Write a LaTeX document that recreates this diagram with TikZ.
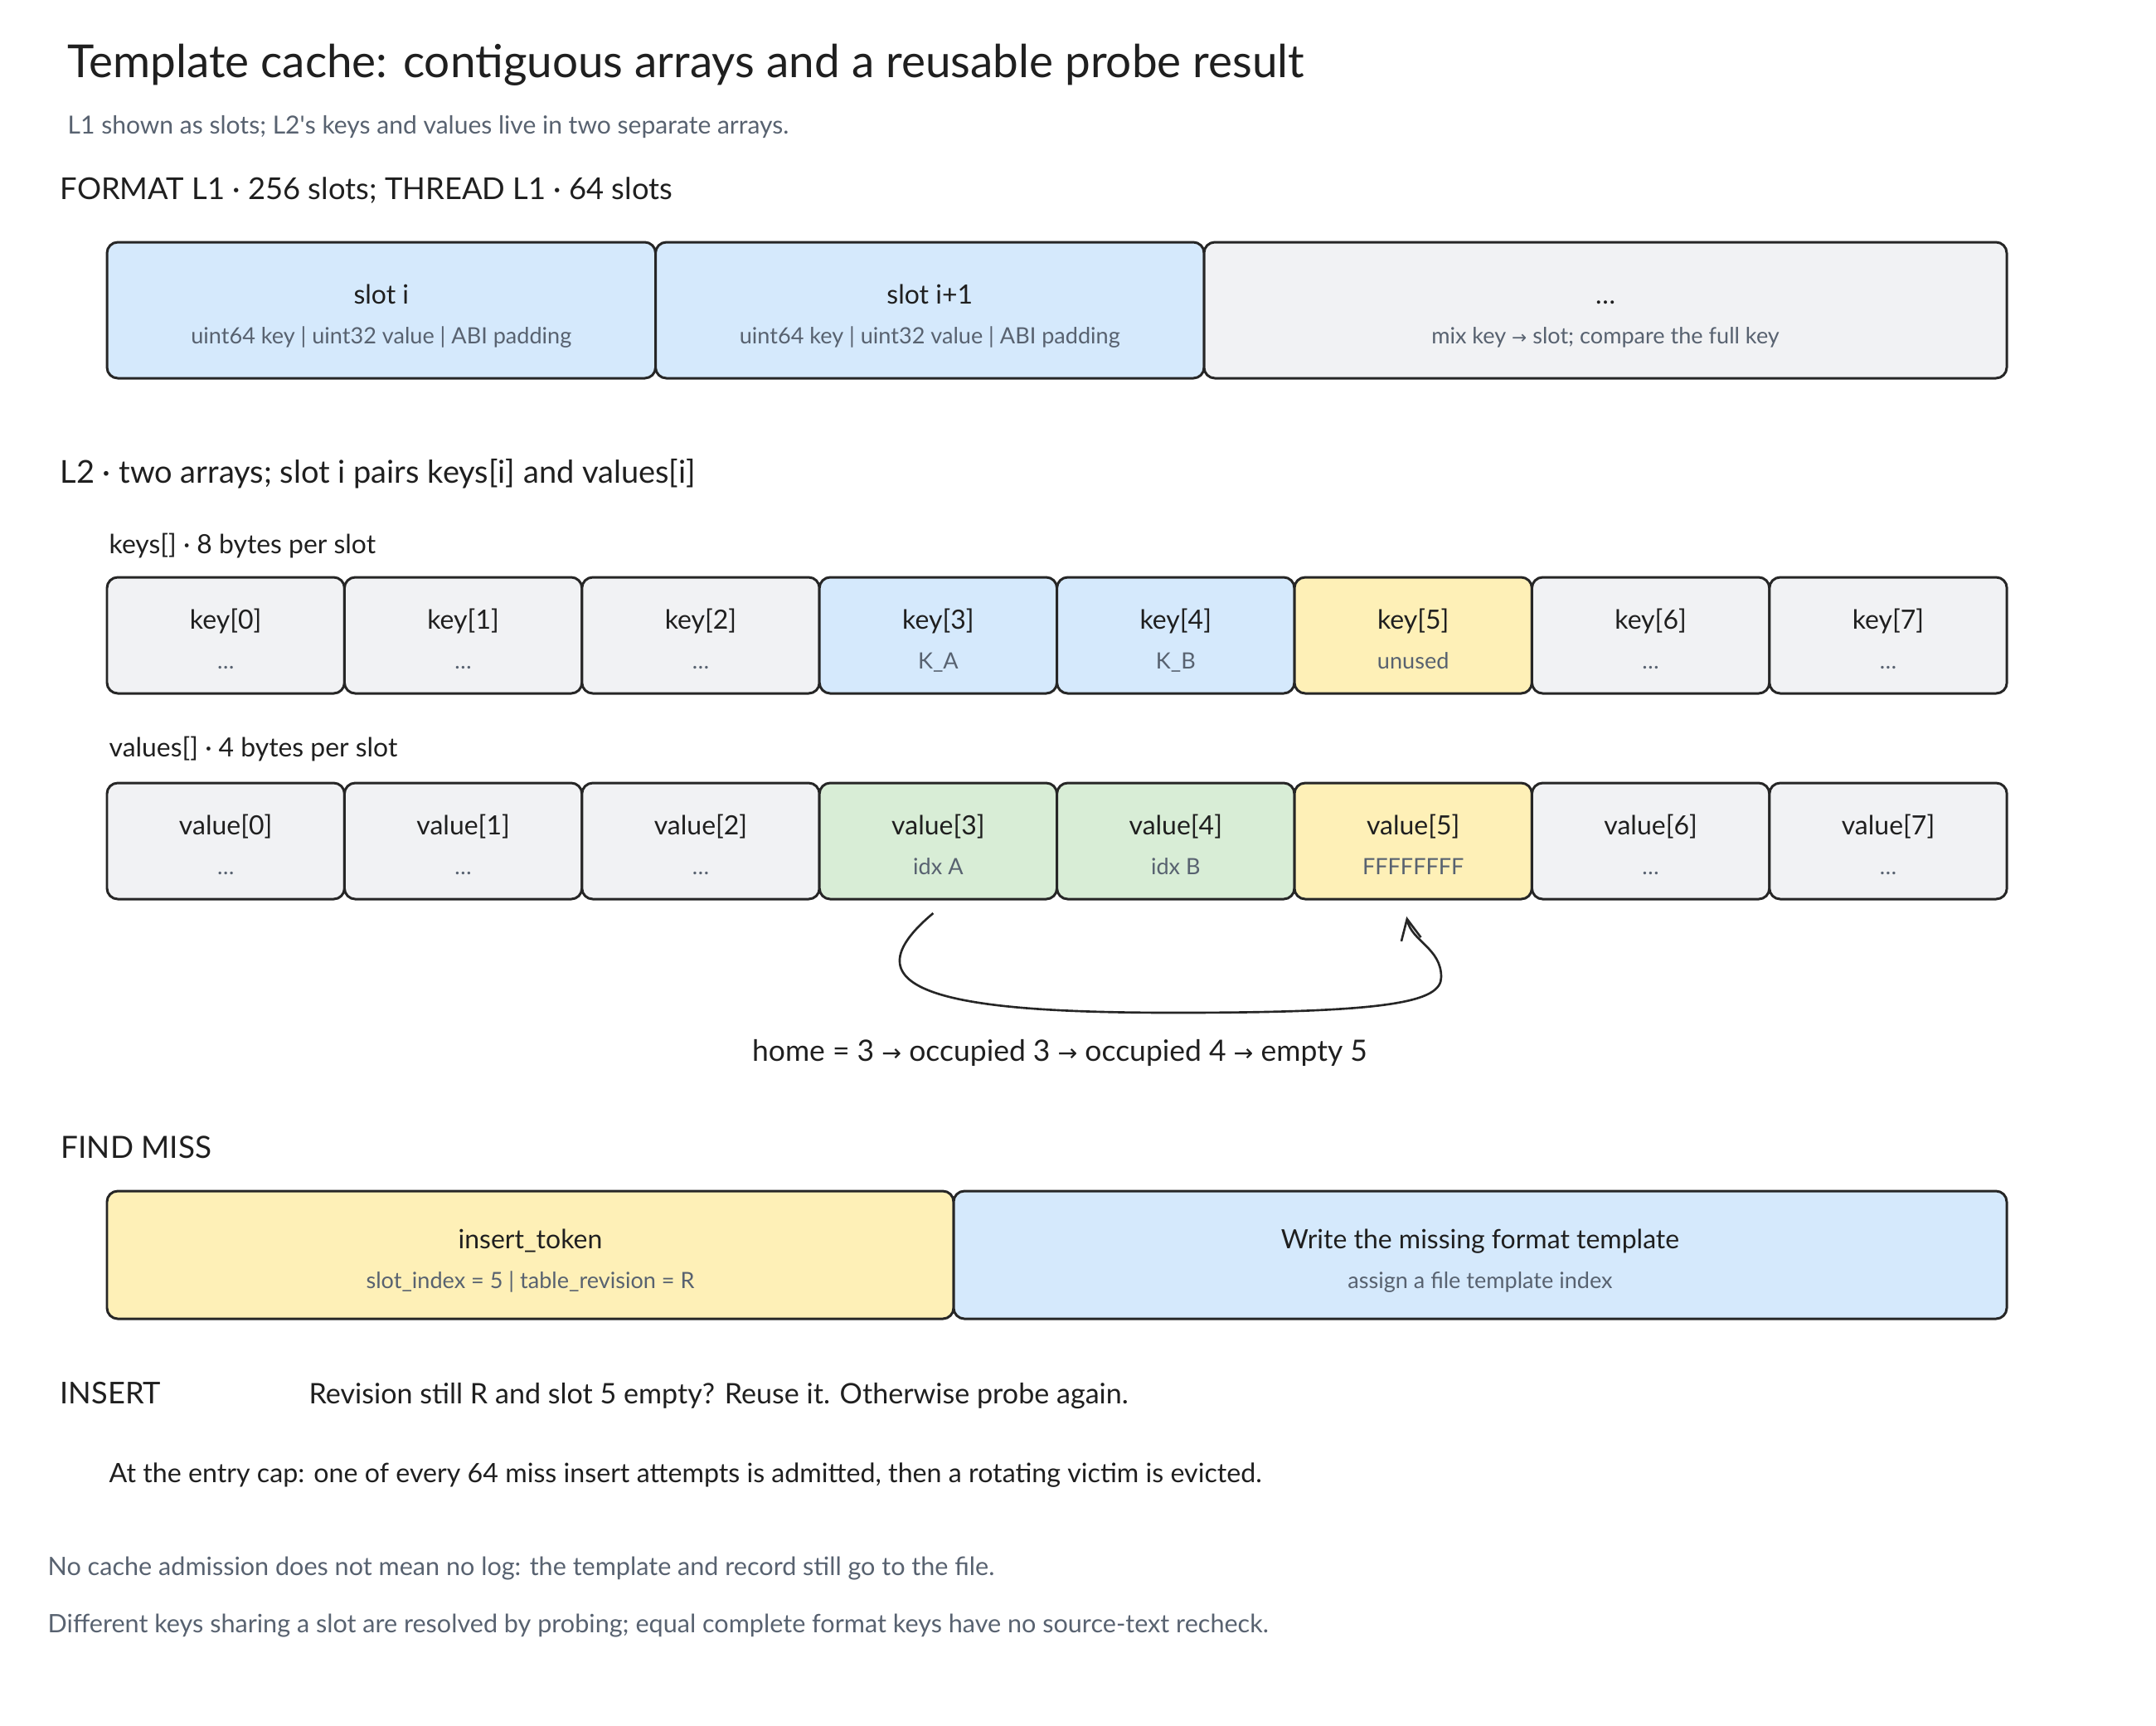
\documentclass[tikz,border=0pt]{standalone}
\usepackage{fontspec}
\setmainfont{Lato}
\newfontfamily\arrowfont{DejaVu Sans}[Scale=0.8]
\usetikzlibrary{arrows.meta}

\begin{document}
\begin{tikzpicture}[
  boxed/.style={rectangle, rounded corners=0.13cm, draw=edgecol, line width=0.85pt, inner sep=0pt, outer sep=0pt, text=inkcol, font=\fontsize{9.1}{11}\selectfont, text height=0.30cm, text depth=0.46cm},
  keybox/.style={boxed, minimum width=2.864cm, minimum height=1.40cm},
  subtxt/.style={anchor=base, inner sep=0pt, text=subcol, font=\fontsize{7.7}{9}\selectfont},
  heading/.style={anchor=base west, inner sep=0pt, text=inkcol, font=\fontsize{10.4}{13}\selectfont},
  arraylabel/.style={anchor=base west, inner sep=0pt, text=inkcol, font=\fontsize{9.07}{11}\selectfont},
  note/.style={anchor=base west, inner sep=0pt, text=subcol, font=\fontsize{8.7}{10}\selectfont},
  probe/.style={line width=0.75pt, draw=edgecol, -{Straight Barb[length=0.25cm, width=0.24cm]}}
]
  % Define colors for the slots
  \definecolor{inkcol}{RGB}{31,31,31}        % Text
  \definecolor{subcol}{RGB}{88,98,112}       % Grey text
  \definecolor{edgecol}{RGB}{38,38,38}       % Box borders
  \definecolor{bluefill}{RGB}{213,233,252}   % Light blue
  \definecolor{greyfill}{RGB}{241,242,244}   % Light grey
  \definecolor{yellowfill}{RGB}{254,240,183} % Light yellow
  \definecolor{greenfill}{RGB}{216,237,214}  % Light green

  \useasboundingbox (0,0) rectangle (26,-20.8);

  % Title and subtitle
  \node[anchor=base west, inner sep=0pt, text=inkcol, font=\fontsize{15.6}{19}\selectfont] (title) at (0.81,-0.93) {Template cache: contiguous arrays and a reusable probe result};
  \node[note, font=\fontsize{8.55}{10}\selectfont] (subtitle) at (0.81,-1.61) {L1 shown as slots; L2\textquotesingle s keys and values live in two separate arrays.};

  % L1 slots
  \node[heading, font=\fontsize{10.34}{13}\selectfont] (l1head) at (0.72,-2.40) {FORMAT L1 · 256 slots; THREAD L1 · 64 slots};
  \node[boxed, fill=bluefill, minimum width=6.615cm, minimum height=1.64cm] (l1a) at (4.598,-3.74) {slot i};
  \node[subtxt] (l1asub) at ([yshift=-0.40cm]l1a.center) {uint64 key | uint32 value | ABI padding};
  \node[boxed, fill=bluefill, minimum width=6.615cm, minimum height=1.64cm] (l1b) at (11.213,-3.74) {slot i+1};
  \node[subtxt] (l1bsub) at ([yshift=-0.40cm]l1b.center) {uint64 key | uint32 value | ABI padding};
  \node[boxed, fill=greyfill, minimum width=9.68cm, minimum height=1.64cm] (l1c) at (19.36,-3.74) {…};
  \node[subtxt] (l1csub) at ([yshift=-0.40cm]l1c.center) {mix key {\arrowfont →} slot; compare the full key};

  % L2 keys array
  \node[heading, font=\fontsize{10.8}{13}\selectfont] (l2head) at (0.72,-5.82) {L2 · two arrays; slot i pairs keys[i] and values[i]};
  \node[arraylabel] (keyslabel) at (1.31,-6.67) {keys[] · 8 bytes per slot};
  \node[keybox, fill=greyfill] (k0) at (2.722,-7.66) {key[0]};
  \node[subtxt] (k0sub) at ([yshift=-0.40cm]k0.center) {…};
  \node[keybox, fill=greyfill] (k1) at (5.586,-7.66) {key[1]};
  \node[subtxt] (k1sub) at ([yshift=-0.40cm]k1.center) {…};
  \node[keybox, fill=greyfill] (k2) at (8.450,-7.66) {key[2]};
  \node[subtxt] (k2sub) at ([yshift=-0.40cm]k2.center) {…};
  \node[keybox, fill=bluefill] (k3) at (11.314,-7.66) {key[3]};
  \node[subtxt] (k3sub) at ([yshift=-0.40cm]k3.center) {K\_A};
  \node[keybox, fill=bluefill] (k4) at (14.178,-7.66) {key[4]};
  \node[subtxt] (k4sub) at ([yshift=-0.40cm]k4.center) {K\_B};
  \node[keybox, fill=yellowfill] (k5) at (17.042,-7.66) {key[5]};
  \node[subtxt] (k5sub) at ([yshift=-0.40cm]k5.center) {unused};
  \node[keybox, fill=greyfill] (k6) at (19.906,-7.66) {key[6]};
  \node[subtxt] (k6sub) at ([yshift=-0.40cm]k6.center) {…};
  \node[keybox, fill=greyfill] (k7) at (22.770,-7.66) {key[7]};
  \node[subtxt] (k7sub) at ([yshift=-0.40cm]k7.center) {…};

  % L2 values array
  \node[arraylabel] (valslabel) at (1.31,-9.12) {values[] · 4 bytes per slot};
  \node[keybox, fill=greyfill] (v0) at (2.722,-10.14) {value[0]};
  \node[subtxt] (v0sub) at ([yshift=-0.40cm]v0.center) {…};
  \node[keybox, fill=greyfill] (v1) at (5.586,-10.14) {value[1]};
  \node[subtxt] (v1sub) at ([yshift=-0.40cm]v1.center) {…};
  \node[keybox, fill=greyfill] (v2) at (8.450,-10.14) {value[2]};
  \node[subtxt] (v2sub) at ([yshift=-0.40cm]v2.center) {…};
  \node[keybox, fill=greenfill] (v3) at (11.314,-10.14) {value[3]};
  \node[subtxt] (v3sub) at ([yshift=-0.40cm]v3.center) {idx A};
  \node[keybox, fill=greenfill] (v4) at (14.178,-10.14) {value[4]};
  \node[subtxt] (v4sub) at ([yshift=-0.40cm]v4.center) {idx B};
  \node[keybox, fill=yellowfill] (v5) at (17.042,-10.14) {value[5]};
  \node[subtxt] (v5sub) at ([yshift=-0.40cm]v5.center) {FFFFFFFF};
  \node[keybox, fill=greyfill] (v6) at (19.906,-10.14) {value[6]};
  \node[subtxt] (v6sub) at ([yshift=-0.40cm]v6.center) {…};
  \node[keybox, fill=greyfill] (v7) at (22.770,-10.14) {value[7]};
  \node[subtxt] (v7sub) at ([yshift=-0.40cm]v7.center) {…};

  % Probe sequence arrow
  \coordinate (probelow) at (14.17,-12.21);
  \coordinate (proberight) at (17.38,-11.78);
  \draw[probe] ([xshift=-0.06cm, yshift=-0.17cm]v3.south) .. controls +(-1.2,-1.0) and +(-2.5,0) .. (probelow)
    .. controls +(2.6,0) and +(0,-0.3) .. (proberight)
    .. controls +(0,0.35) and +(0.06,-0.3) .. ([xshift=-0.08cm, yshift=-0.21cm]v5.south);
  \node[anchor=base, inner sep=0pt, text=inkcol, font=\fontsize{10.1}{12}\selectfont] (probetxt) at (12.78,-12.79) {home = 3 {\arrowfont →} occupied 3 {\arrowfont →} occupied 4 {\arrowfont →} empty 5};

  % Find miss
  \node[heading, font=\fontsize{10.5}{13}\selectfont] (findhead) at (0.73,-13.96) {FIND MISS};
  \node[boxed, fill=yellowfill, minimum width=10.21cm, minimum height=1.54cm] (token) at (6.395,-15.13) {insert\_token};
  \node[subtxt] (tokensub) at ([yshift=-0.40cm]token.center) {slot\_index = 5 | table\_revision = R};
  \node[boxed, fill=bluefill, minimum width=12.70cm, minimum height=1.54cm] (writetpl) at (17.85,-15.13) {Write the missing format template};
  \node[subtxt] (writetplsub) at ([yshift=-0.40cm]writetpl.center) {assign a file template index};

  % Insert
  \node[heading, font=\fontsize{10.3}{13}\selectfont] (inserthead) at (0.72,-16.92) {INSERT};
  \node[heading, font=\fontsize{9.7}{12}\selectfont] (reuse) at (3.72,-16.92) {Revision still R and slot 5 empty? Reuse it. Otherwise probe again.};
  \node[arraylabel, font=\fontsize{9.16}{11}\selectfont] (entrycap) at (1.31,-17.87) {At the entry cap: one of every 64 miss insert attempts is admitted, then a rotating victim is evicted.};

  % Footnotes
  \node[note] (nolog) at (0.57,-18.99) {No cache admission does not mean no log: the template and record still go to the file.};
  \node[note] (collide) at (0.57,-19.68) {Different keys sharing a slot are resolved by probing; equal complete format keys have no source-text recheck.};
\end{tikzpicture}
\end{document}
